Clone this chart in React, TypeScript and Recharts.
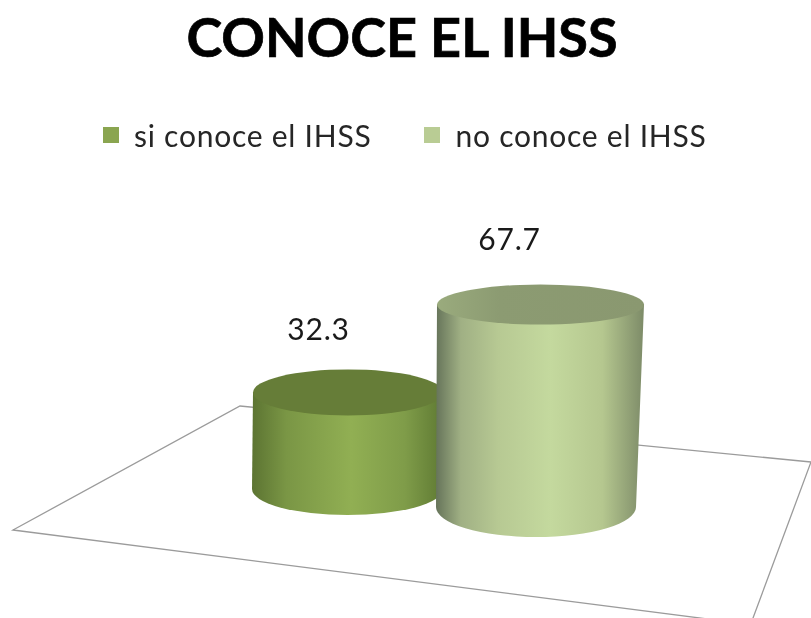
import { BarChart, Bar, XAxis, YAxis, Legend, LabelList } from 'recharts';

const CATEGORIES = ['IHSS'];
const SERIES_NAMES = ['si conoce el IHSS', 'no conoce el IHSS'];
const SI_VALUES = [32.3];
const NO_VALUES = [67.7];
const TITLE = 'CONOCE EL IHSS';

const chartData = CATEGORIES.map((name, i) => ({
  name,
  si: SI_VALUES[i],
  no: NO_VALUES[i],
}));

const FONT = 'Lato, "Open Sans", sans-serif';

// depth = how far back the series sits on the floor, top/bottom = perspective widening
function makeCylinder(gradientId: string, topFill: string, depth: number, topExtra: number, bottomExtra: number, ryTop: number, ryBottom: number) {
  return function Cylinder(props: any) {
    const { x, y, width, height } = props;
    const baseY = y + height - depth;
    const topY = y - depth;
    const xTopR = x + width + topExtra;
    const xBotL = x - 1;
    const xBotR = x + width + bottomExtra;
    const rxTop = (xTopR - x) / 2;
    const rxBot = (xBotR - xBotL) / 2;
    const path = `M${x},${topY} L${xBotL},${baseY} A${rxBot},${ryBottom} 0 0 0 ${xBotR},${baseY} L${xTopR},${topY} Z`;
    return (
      <g>
        <path d={path} fill={`url(#${gradientId})`} />
        <ellipse cx={x + rxTop} cy={topY} rx={rxTop} ry={ryTop} fill={topFill} />
      </g>
    );
  };
}

const SiCylinder = makeCylinder('gradSi', '#667d38', 18, -5, -5, 23, 26);
const NoCylinder = makeCylinder('gradNo', 'url(#gradNoTop)', 0, 12, 4, 20, 30);

function makeValueLabel(dx: number, dy: number) {
  return function ValueLabel(props: any) {
    const { x, y, width, value } = props;
    return (
      <text x={x + width / 2 + dx} y={y + dy} textAnchor="middle" fontFamily={FONT} fontSize={30} letterSpacing={0.8} fill="#1a1a1a">
        {value}
      </text>
    );
  };
}

function LegendRow({ payload }: any) {
  return (
    <div style={{ display: 'flex', fontFamily: FONT, fontSize: 30, color: '#262626', letterSpacing: 0.75 }}>
      {(payload || []).map((entry: any, i: number) => (
        <div key={entry.value} style={{ display: 'flex', alignItems: 'center', marginRight: i === 0 ? 53 : 0 }}>
          <span style={{ width: 16, height: 16, background: entry.color, marginRight: 15 }} />
          <span>{entry.value}</span>
        </div>
      ))}
    </div>
  );
}

export default function App() {
  return (
    <div style={{ position: 'absolute', left: 0, top: 0, width: 811, height: 618, overflow: 'hidden', background: '#fff', filter: 'blur(0.6px)' }}>
      <BarChart
        width={811}
        height={618}
        data={chartData}
        margin={{ top: 172, right: 0, bottom: 111, left: 74 }}
        barSize={195}
        barGap={-11}
      >
        <defs>
          <linearGradient id="gradSi" x1="0" y1="0" x2="1" y2="0">
            <stop offset="0" stopColor="#5c7432" />
            <stop offset="0.18" stopColor="#7a9645" />
            <stop offset="0.52" stopColor="#91af53" />
            <stop offset="0.8" stopColor="#7f9c49" />
            <stop offset="1" stopColor="#5f7a33" />
          </linearGradient>
          <linearGradient id="gradNo" x1="0" y1="0" x2="1" y2="0">
            <stop offset="0" stopColor="#66745a" />
            <stop offset="0.12" stopColor="#a0b084" />
            <stop offset="0.3" stopColor="#b7c993" />
            <stop offset="0.55" stopColor="#c4d99e" />
            <stop offset="0.8" stopColor="#b5c78f" />
            <stop offset="1" stopColor="#7d8b68" />
          </linearGradient>
          <linearGradient id="gradNoTop" x1="0" y1="0" x2="1" y2="0">
            <stop offset="0" stopColor="#9aab7d" />
            <stop offset="0.3" stopColor="#8c9b72" />
            <stop offset="1" stopColor="#8a9870" />
          </linearGradient>
        </defs>
        <polygon points="13,530 240,406 811,462 750.6,624.5" fill="none" stroke="#9b9b9b" strokeWidth={1.3} />
        <text x={402} y={57} textAnchor="middle" fontFamily={FONT} fontWeight={700} fontSize={54} stroke="#000" strokeWidth={0.7} fill="#000">
          {TITLE}
        </text>
        <XAxis dataKey="name" hide />
        <YAxis hide domain={[0, 100]} />
        <Legend
          verticalAlign="top"
          itemSorter={null}
          content={<LegendRow />}
          wrapperStyle={{ position: 'absolute', top: 117, left: 103, width: 680 }}
        />
        <Bar dataKey="si" name={SERIES_NAMES[0]} fill="#8aa550" shape={SiCylinder} isAnimationActive={false}>
          <LabelList dataKey="si" content={makeValueLabel(-32, -70)} />
        </Bar>
        <Bar dataKey="no" name={SERIES_NAMES[1]} fill="#b9cc94" shape={NoCylinder} isAnimationActive={false}>
          <LabelList dataKey="no" content={makeValueLabel(-25, -55)} />
        </Bar>
      </BarChart>
    </div>
  );
}
